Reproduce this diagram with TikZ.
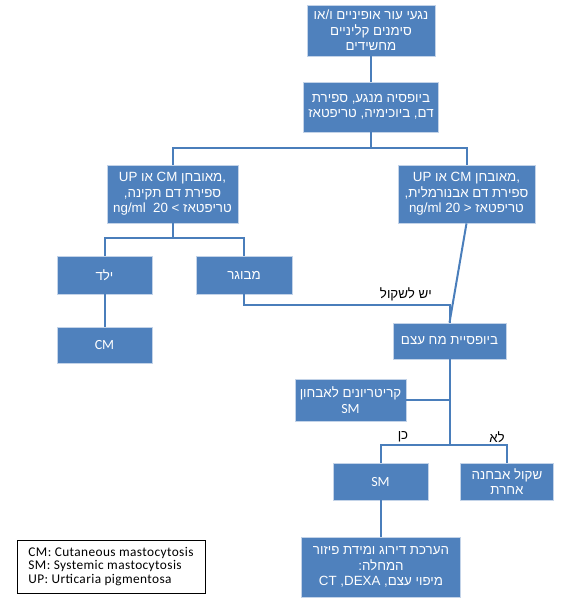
\documentclass[tikz,border=0pt]{standalone}
\usepackage{fontspec}
\setmainfont{Liberation Sans}
\newfontfamily\hebfont[Script=Hebrew]{Liberation Sans}
\newfontfamily\legendfont[LetterSpace=3]{Carlito}
\newfontfamily\boxfont{Carlito}
\TeXXeTstate=1
\usetikzlibrary{positioning}
\definecolor{flowFill}{HTML}{4F81BD}
\definecolor{flowEdge}{HTML}{C3D3E8}
\definecolor{flowLine}{HTML}{4A7EBB}
\newcommand{\heb}[1]{{\hebfont\beginR #1\endR}}
\newcommand{\lat}[1]{\beginL #1\endL{}}
\tikzset{
  % one pixel of the sheet is .75pt; y runs downwards
  flow/base/.style={
    font=\fontsize{10pt}{11.6pt}\selectfont,
    line cap=butt,
    line join=miter
  },
  flow/box/.style={
    draw=flowEdge,
    fill=flowFill,
    line width=.6pt,
    text=white,
    align=center,
    inner sep=1pt
  },
  flow/link/.style={
    draw=flowLine,
    line width=1.5pt
  },
  flow/note/.style={
    text=black,
    inner sep=1pt
  },
  flow/legend/.style={
    draw=black,
    fill=white,
    line width=.75pt,
    align=left,
    inner sep=1pt,
    font=\legendfont\fontsize{10pt}{10pt}\selectfont
  }
}
\begin{document}
\begin{tikzpicture}[flow/base,x=.75pt,y=-.75pt]
  \path[use as bounding box] (0,0) rectangle (568,610);

  % upper part: lesion and blood work
  \node[flow/box,minimum width=96pt,minimum height=38.25pt] (suspectBox) at (371,30.5)
    {\heb{נגעי עור אופיניים ו/או}\\\heb{סימנים קליניים}\\\heb{מחשידים}};
  \node[flow/box,minimum width=101.25pt,minimum height=37.5pt] (lesionBiopsy) at (371,107)
    {\heb{ביופסיה מנגע, ספירת}\\\heb{דם, ביוכימיה, טריפטאז}};
  \node[flow/box,minimum width=98.25pt,minimum height=43.5pt] (normalCount) at (172.5,194)
    {\heb{,מאובחן \lat{CM} או \lat{UP}}\\\heb{ספירת דם תקינה,}\\\heb{טריפטאז \lat{ng/ml\ \ 20 >}}};
  \node[flow/box,minimum width=102.75pt,minimum height=43.5pt] (abnormalCount) at (466.5,194)
    {\heb{,מאובחן \lat{CM} או \lat{UP}}\\\heb{ספירת דם אבנורמלית,}\\\heb{טריפטאז \lat{ng/ml 20 <}}};
  \coordinate (countSplit) at ([yshift=-12pt]lesionBiopsy.south);
  \draw[flow/link] (suspectBox) -- (lesionBiopsy);
  \draw[flow/link] (lesionBiopsy) -- (countSplit);
  \draw[flow/link] (normalCount.north) |- (countSplit) -| (abnormalCount.north);

  % left branch: child or adult
  \node[flow/box,minimum width=71.25pt,minimum height=28.5pt] (childBox) at (104.5,275)
    {\heb{ילד}};
  \node[flow/box,minimum width=72pt,minimum height=28.5pt] (adultBox) at (244,275)
    {\heb{מבוגר}};
  \node[flow/box,minimum width=71.25pt,minimum height=27pt,font=\boxfont\fontsize{10.5pt}{12pt}\selectfont]
    (cmBox) at (104.5,345) {CM};
  \coordinate (ageSplit) at ([yshift=-11.25pt]normalCount.south);
  \draw[flow/link] (normalCount) -- (ageSplit);
  \draw[flow/link] (childBox.north) |- (ageSplit) -| (adultBox.north);
  \draw[flow/link] (childBox) -- (cmBox);

  % bone marrow and diagnosis
  \node[flow/box,minimum width=84.75pt,minimum height=27pt] (marrowBiopsy) at (449.5,341)
    {\heb{ביופסיית מח עצם}};
  \coordinate (considerBend) at (marrowBiopsy.north |- 0,305);
  \draw[flow/link] (adultBox.south) |- (considerBend) -- (marrowBiopsy.north);
  \draw[flow/link] (abnormalCount.south) -- (marrowBiopsy.north);
  \node[flow/note,anchor=south east] (considerLabel) at ([xshift=-12pt,yshift=2pt]considerBend)
    {\heb{יש לשקול}};

  \node[flow/box,minimum width=83.25pt,minimum height=31.5pt] (criteriaBox) at (350.5,400)
    {\heb{קריטריונים לאבחון}\\{\boxfont\fontsize{10.5pt}{12pt}\selectfont SM}};
  \node[flow/box,minimum width=71.25pt,minimum height=27.75pt,font=\boxfont\fontsize{10.5pt}{12pt}\selectfont]
    (smBox) at (380.5,481.5) {SM};
  \node[flow/box,minimum width=69.75pt,minimum height=27.75pt] (otherBox) at (507,481.5)
    {\heb{שקול אבחנה}\\\heb{אחרת}};
  \coordinate (criteriaJoin) at (marrowBiopsy.south |- criteriaBox.east);
  \coordinate (answerSplit) at (marrowBiopsy.south |- 0,445);
  \draw[flow/link] (marrowBiopsy) -- (answerSplit);
  \draw[flow/link] (criteriaBox.east) -- (criteriaJoin);
  \draw[flow/link] (smBox.north) |- (answerSplit) -| (otherBox.north);
  \node[flow/note] (yesLabel) at (403,437) {\heb{כן}};
  \node[flow/note] (noLabel) at (497,437) {\heb{לא}};

  \node[flow/box,minimum width=119.25pt,minimum height=45pt] (stagingBox) at (381,567)
    {\heb{הערכת דירוג ומידת פיזור}\\\heb{המחלה:}\\\heb{מיפוי עצם, \lat{DEXA}, \lat{CT}}};
  \draw[flow/link] (smBox.south -| stagingBox.north) -- (stagingBox.north);

  % abbreviations
  \node[flow/legend,minimum width=141pt,minimum height=39.75pt] (legendBox) at (111,566.5)
    {CM: Cutaneous mastocytosis\\SM: Systemic mastocytosis\\UP: Urticaria pigmentosa};
\end{tikzpicture}
\end{document}
